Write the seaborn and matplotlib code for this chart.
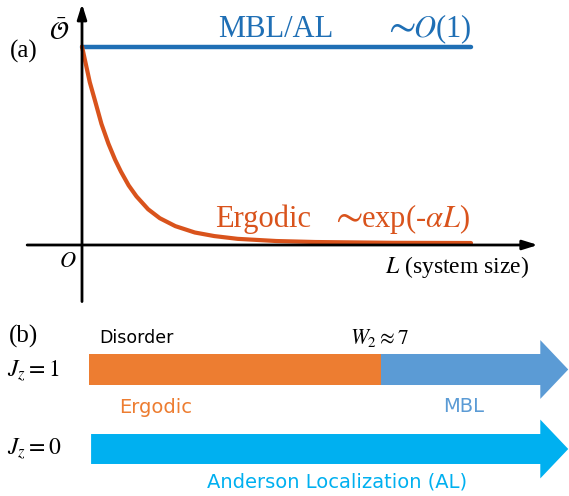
#!/usr/bin/env python3
"""
Schematic of the observable decay (a) and the disorder phase diagram (b).
"""

import matplotlib.pyplot as plt
from matplotlib.patches import FancyArrow
import seaborn as sns

# panel (a): observable vs system size
L_vals = [0, 0.1, 0.2, 0.33, 0.5, 0.68, 0.85, 1.0, 1.2, 1.4, 1.7, 2.0, 2.4, 2.9, 3.4, 4.0,
          5.0, 6.0, 8.0, 10]
ergodic_vals = [1.0, 0.91, 0.82, 0.73, 0.61, 0.51, 0.43, 0.37, 0.30, 0.245, 0.18, 0.135,
                0.095, 0.063, 0.045, 0.031, 0.02, 0.015, 0.011, 0.01]
mbl_L = [0, 10]
mbl_vals = [1.0, 1.0]

# panel (b): disorder ranges for each J_z
W_start = 0.0
W_2 = 7.0
W_end = 11.49
row_labels = [r'$J_z = 1$', r'$J_z = 0$']
row_pos = [1, 0]

W_PX, H_PX = 569, 496
SERIF = 'Liberation Serif'
SANS = 'DejaVu Sans'


def px(x, y):
    """Pixel position (from top-left) to figure fraction."""
    return x / W_PX, 1 - y / H_PX


def put(fig, x, y, s, size, color='black', family=SERIF, ha='left'):
    fx, fy = px(x, y)
    fig.text(fx, fy, s, fontsize=size, color=color, family=family, ha=ha, va='baseline')


def draw_panel_a(fig):
    # origin at px (82, 245), L unit 38.9 px, O unit 198.5 px
    ax = fig.add_axes([0, 0.375, 1, 0.625])
    ax.set_xlim(-82 / 38.9, (569 - 82) / 38.9)
    ax.set_ylim((245 - 310) / 198.5, 245 / 198.5)
    ax.axis('off')

    sns.lineplot(x=mbl_L, y=mbl_vals, ax=ax, color='#1f6fb5', lw=3.2)
    sns.lineplot(x=L_vals, y=ergodic_vals, ax=ax, color='#d9531c', lw=3, zorder=3,
                 solid_joinstyle='round')

    arrow = dict(arrowstyle='-|>,head_length=0.9,head_width=0.28', color='black', lw=2,
                 shrinkA=0, shrinkB=0)
    ax.annotate('', xy=(11.72, 0), xytext=(-1.41, 0), arrowprops=arrow)
    ax.annotate('', xy=(0, 1.215), xytext=(0, -0.285), arrowprops=arrow)

    put(fig, 10, 58, '(a)', 18)
    put(fig, 49, 40, r'$\bar{\mathcal{O}}$', 18)
    put(fig, 218, 37, 'MBL/AL', 22, '#1f6fb5')
    put(fig, 383, 37, r'$\sim$', 29, '#1f6fb5')
    put(fig, 413, 37, r'$O$(1)', 22, '#1f6fb5')
    put(fig, 215, 227, 'Ergodic', 22, '#d9531c')
    put(fig, 330, 227, r'$\sim$', 29, '#d9531c')
    put(fig, 361, 227, r'exp(-$\alpha L$)', 22, '#d9531c')
    put(fig, 59, 267, r'$O$', 16)
    put(fig, 385, 273, r'$L$ (system size)', 17)


def draw_panel_b(fig):
    # W = 0 at px 89, 41.71 px per unit; rows 79.5 px apart, J_z=0 centred at px 449
    ax = fig.add_axes([0, 0, 1, 0.375])
    ax.set_xlim(-89 / 41.71, (569 - 89) / 41.71)
    ax.set_ylim((449 - 496) / 79.5, (449 - 310) / 79.5)
    ax.axis('off')

    shaft, head_w, head_l = 0.39, 0.74, 0.67
    ax.barh(row_pos[0], W_2 - W_start, left=W_start, height=shaft, color='#ed7d31', lw=0)
    ax.add_patch(FancyArrow(W_2, row_pos[0], W_end - W_2, 0, width=shaft, head_width=head_w,
                            head_length=head_l, length_includes_head=True,
                            color='#5b9bd5', lw=0))
    ax.add_patch(FancyArrow(W_start + 0.05, row_pos[1], W_end - W_start - 0.05, 0, width=0.377,
                            head_width=head_w, head_length=head_l, length_includes_head=True,
                            color='#00b0f0', lw=0))

    put(fig, 9, 343, '(b)', 18)
    put(fig, 99, 343, 'Disorder', 12.5, family=SANS)
    put(fig, 350, 344, r'$W_2 \approx 7$', 15.5)
    put(fig, 7, 377, row_labels[0], 17)
    put(fig, 7, 455, row_labels[1], 17)
    put(fig, 119, 413, 'Ergodic', 14, '#ed7d31', SANS)
    put(fig, 443, 412, 'MBL', 14, '#5b9bd5', SANS)
    put(fig, 207, 488, 'Anderson Localization (AL)', 14, '#00b0f0', SANS)


def main():
    sns.set_style('white')
    plt.rcParams['font.family'] = [SERIF, 'DejaVu Sans']
    plt.rcParams['mathtext.fontset'] = 'stix'

    fig = plt.figure(figsize=(5.69, 4.96), dpi=100)
    draw_panel_a(fig)
    draw_panel_b(fig)
    fig.savefig('out.png', dpi=100)
    plt.close(fig)


if __name__ == "__main__":
    main()
